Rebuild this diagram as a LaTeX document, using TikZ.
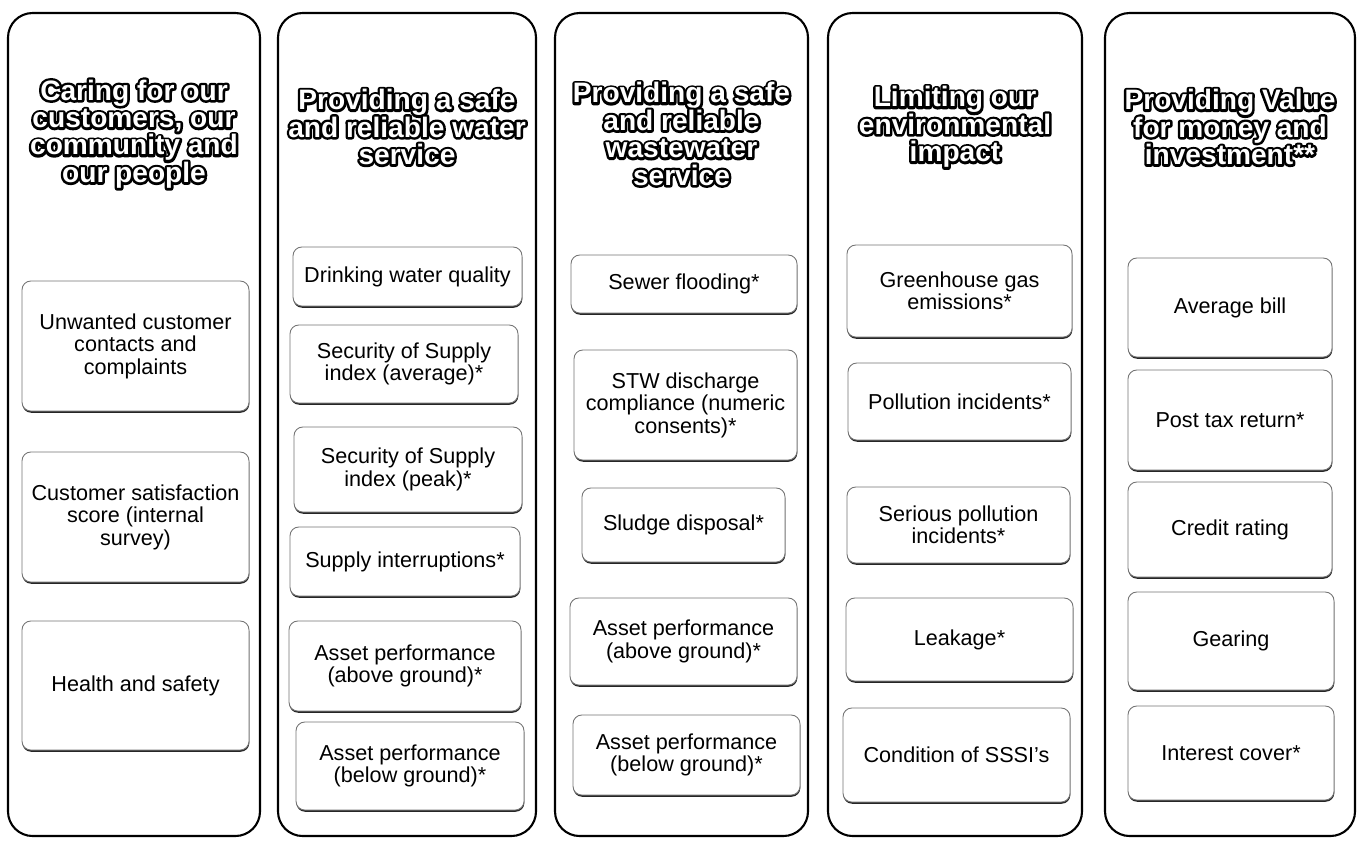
\documentclass[tikz,border=0pt]{standalone}
\usepackage{fontspec}
\setmainfont{Liberation Sans}
\usepackage{tikz}
\usetikzlibrary{shadows}

% heading line: black stroked outline under white letters
\newcommand{\hdl}[1]{\rlap{\special{pdf:literal direct 0 G 2.8 w 1 j 1 Tr}#1\special{pdf:literal direct 0 Tr}}#1}

\begin{document}
\begin{tikzpicture}[
  x=0.02cm, y=-0.02cm,
  column/.style={rectangle, draw, line width=1.2pt, rounded corners=14pt},
  heading/.style={text=white, align=center, font=\fontsize{16}{15.6}\selectfont\bfseries},
  kpi/.style={rectangle, draw=black!55, line width=0.5pt, fill=white, rounded corners=5pt, align=center, font=\fontsize{12.3}{12.8}\selectfont, drop shadow={shadow xshift=0.2pt, shadow yshift=-1pt, fill=black!85, opacity=1}},
  box/.style 2 args={minimum width=#1*0.02cm, minimum height=#2*0.02cm, inner sep=0pt}
]
\useasboundingbox (0,0) rectangle (1361,840);

% columns
\node[column, box={252}{823}] (care) at (134,424.5) {};
\node[column, box={258}{823}] (water) at (407,424.5) {};
\node[column, box={253}{823}] (waste) at (681.5,424.5) {};
\node[column, box={254}{823}] (env) at (955,424.5) {};
\node[column, box={250}{823}] (value) at (1230,424.5) {};

% headings
\node[heading] (hcare) at (134,134) {\hdl{Caring for our}\\\hdl{customers, our}\\\hdl{community and}\\\hdl{our people}};
\node[heading] (hwater) at (407,127) {\hdl{Providing a safe}\\\hdl{and reliable water}\\\hdl{service}};
\node[heading] (hwaste) at (681.5,134) {\hdl{Providing a safe}\\\hdl{and reliable}\\\hdl{wastewater}\\\hdl{service}};
\node[heading] (henv) at (955,127) {\hdl{Limiting our}\\\hdl{environmental}\\\hdl{impact}};
\node[heading] (hvalue) at (1230,127) {\hdl{Providing Value}\\\hdl{for money and}\\\hdl{investment**}};

% caring for customers
\node[kpi, box={227}{130}] (contacts) at (135.5,346) {Unwanted customer\\contacts and\\complaints};
\node[kpi, box={227}{130}] (satisf) at (135.5,517) {Customer satisfaction\\score (internal\\survey)};
\node[kpi, box={227}{129}] (health) at (135.5,685.5) {Health and safety};

% water service
\node[kpi, box={229}{59}] (drink) at (407.5,276.5) {Drinking water quality};
\node[kpi, box={228}{78}] (secavg) at (404,364) {Security of Supply\\index (average)*};
\node[kpi, box={228}{85}] (secpeak) at (408,469.5) {Security of Supply\\index (peak)*};
\node[kpi, box={230}{69}] (interr) at (405,561.5) {Supply interruptions*};
\node[kpi, box={232}{90}] (wabove) at (405,666) {Asset performance\\(above ground)*};
\node[kpi, box={228}{88}] (wbelow) at (410,766) {Asset performance\\(below ground)*};

% wastewater service
\node[kpi, box={226}{58}] (flood) at (684,284) {Sewer flooding*};
\node[kpi, box={223}{110}] (stw) at (685.5,405) {STW discharge\\compliance (numeric\\consents)*};
\node[kpi, box={203}{74}] (sludge) at (683.5,525) {Sludge disposal*};
\node[kpi, box={227}{87}] (sabove) at (683.5,641.5) {Asset performance\\(above ground)*};
\node[kpi, box={227}{80}] (sbelow) at (686.5,755) {Asset performance\\(below ground)*};

% environmental impact
\node[kpi, box={225}{92}] (ghg) at (959.5,291) {Greenhouse gas\\emissions*};
\node[kpi, box={223}{77}] (poll) at (959.5,401.5) {Pollution incidents*};
\node[kpi, box={223}{76}] (spoll) at (958.5,525) {Serious pollution\\incidents*};
\node[kpi, box={227}{83}] (leak) at (959.5,639.5) {Leakage*};
\node[kpi, box={227}{94}] (sssi) at (956.5,755) {Condition of SSSI's};

% value for money
\node[kpi, box={204}{99}] (bill) at (1230,307.5) {Average bill};
\node[kpi, box={204}{100}] (ret) at (1230,420) {Post tax return*};
\node[kpi, box={204}{95}] (credit) at (1230,529.5) {Credit rating};
\node[kpi, box={206}{98}] (gear) at (1231,641) {Gearing};
\node[kpi, box={206}{94}] (cover) at (1231,753) {Interest cover*};

\end{tikzpicture}
\end{document}
